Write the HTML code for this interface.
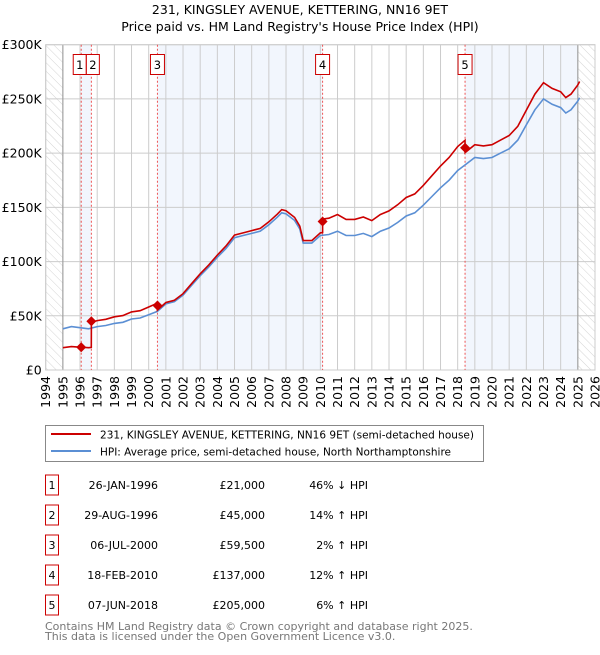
<!DOCTYPE html>
<html><head><meta charset="utf-8"><style>
body{margin:0;background:#fff;font-family:"Liberation Sans","DejaVu Sans",sans-serif;}
svg text{font-family:"DejaVu Sans","Liberation Sans",sans-serif;}
</style></head><body>
<svg id="chart" width="600" height="650" xmlns="http://www.w3.org/2000/svg">
<defs><pattern id="hatch" width="6" height="6" patternUnits="userSpaceOnUse" patternTransform="rotate(-45)"><line x1="0" y1="0" x2="0" y2="6" stroke="#d4d4d4" stroke-width="1"/></pattern></defs>
<text x="300" y="14" font-size="12.5" text-anchor="middle">231, KINGSLEY AVENUE, KETTERING, NN16 9ET</text>
<text x="300" y="31" font-size="12.5" text-anchor="middle">Price paid vs. HM Land Registry's House Price Index (HPI)</text>
<g id="plot"></g>
<g>
<rect x="45.5" y="425.5" width="438" height="36" fill="#fff" stroke="#888"/>
<line x1="51" y1="434" x2="91" y2="434" stroke="#cc0000" stroke-width="2"/>
<text x="100" y="438.5" font-size="11" textLength="374" lengthAdjust="spacingAndGlyphs">231, KINGSLEY AVENUE, KETTERING, NN16 9ET (semi-detached house)</text>
<line x1="51" y1="451" x2="91" y2="451" stroke="#5b8fd4" stroke-width="2"/>
<text x="100" y="455.5" font-size="11" textLength="351" lengthAdjust="spacingAndGlyphs">HPI: Average price, semi-detached house, North Northamptonshire</text>
</g>
<g id="table"></g>
<text x="45" y="630" font-size="11" fill="#777">Contains HM Land Registry data © Crown copyright and database right 2025.</text>
<text x="45" y="640" font-size="11" fill="#777">This data is licensed under the Open Government Licence v3.0.</text>
</svg>
<script>
const hpiYears=[1995,1995.5,1996,1996.5,1997,1997.5,1998,1998.5,1999,1999.5,2000,2000.5,2001,2001.5,2002,2002.5,2003,2003.5,2004,2004.5,2005,2005.5,2006,2006.5,2007,2007.5,2007.75,2008,2008.5,2008.8,2009,2009.5,2010,2010.5,2011,2011.5,2012,2012.5,2013,2013.5,2014,2014.5,2015,2015.5,2016,2016.5,2017,2017.5,2018,2018.5,2019,2019.5,2020,2020.5,2021,2021.5,2022,2022.5,2023,2023.5,2024,2024.3,2024.6,2025,2025.1];
const hpiValues=[38,40,39,38,40,41,43,44,47,48,51,54,61,63,69,78,87,95,104,112,122,124,126,128,134,141,145,144,138,130,117,117,124,125,128,124,124,126,123,128,131,136,142,145,152,160,168,175,184,190,196,195,196,200,204,212,226,240,250,245,242,237,240,248,251];
const saleDates=[1996.07,1996.66,2000.51,2010.13,2018.43];
const salePrices=[21000,45000,59500,137000,205000];
const saleHpiPct=[-46,14,2,12,6];
const saleLabels=["1","2","3","4","5"];
const saleDateText=["26-JAN-1996","29-AUG-1996","06-JUL-2000","18-FEB-2010","07-JUN-2018"];
const salePriceText=["£21,000","£45,000","£59,500","£137,000","£205,000"];
const saleHpiText=["46% ↓ HPI","14% ↑ HPI","2% ↑ HPI","12% ↑ HPI","6% ↑ HPI"];
const yTicks=[0,50,100,150,200,250,300];
const yTickLabels=["£0","£50K","£100K","£150K","£200K","£250K","£300K"];
const xTicks=[1994,1995,1996,1997,1998,1999,2000,2001,2002,2003,2004,2005,2006,2007,2008,2009,2010,2011,2012,2013,2014,2015,2016,2017,2018,2019,2020,2021,2022,2023,2024,2025,2026];

const NS="http://www.w3.org/2000/svg";
const X0=45.7,X1=595,Y0=370,Y1=44.7;
const xs=y=>X0+(y-1994)/32*(X1-X0);
const ys=v=>Y0-v/300*(Y0-Y1);
function mk(tag,attrs,parent){const e=document.createElementNS(NS,tag);for(const k in attrs)e.setAttribute(k,attrs[k]);parent.appendChild(e);return e;}
function hpiAt(t){for(let i=0;i<hpiYears.length-1;i++){if(t<=hpiYears[i+1]){const f=(t-hpiYears[i])/(hpiYears[i+1]-hpiYears[i]);return hpiValues[i]+f*(hpiValues[i+1]-hpiValues[i]);}}return hpiValues[hpiValues.length-1];}
const plot=document.getElementById('plot');
const bounds=[1995].concat(saleDates,[2025]);
for(let i=0;i<bounds.length-1;i++){if(i%2===1){const r=mk('rect',{x:xs(bounds[i]),y:Y1,width:xs(bounds[i+1])-xs(bounds[i]),height:Y0-Y1,fill:'#eef3fc',opacity:0.75},plot);

}}
const h1=mk('rect',{x:X0,y:Y1,width:xs(1995)-X0,height:Y0-Y1,fill:'url(#hatch)'},plot);


const h2=mk('rect',{x:xs(2025),y:Y1,width:X1-xs(2025),height:Y0-Y1,fill:'url(#hatch)'},plot);


yTicks.forEach((v,i)=>{mk('line',{x1:X0,x2:X1,y1:ys(v),y2:ys(v),stroke:'#ccc'},plot);
const t=mk('text',{x:X0-4,y:ys(v)+4.5,'font-size':12.5,'text-anchor':'end'},plot);t.textContent=yTickLabels[i];

});
xTicks.forEach(y=>{mk('line',{x1:xs(y),x2:xs(y),y1:Y1,y2:Y0,stroke:'#ccc'},plot);
const t=mk('text',{x:0,y:0,'font-size':12.5,'text-anchor':'end',transform:`translate(${xs(y)+4.5},${Y0+6}) rotate(-90)`},plot);t.textContent=y;

});
mk('line',{x1:xs(1995),x2:xs(1995),y1:Y1,y2:Y0,stroke:'#999'},plot);
mk('line',{x1:xs(2025),x2:xs(2025),y1:Y1,y2:Y0,stroke:'#999'},plot);
mk('rect',{x:X0,y:Y1,width:X1-X0,height:Y0-Y1,fill:'none',stroke:'#ccc'},plot);
saleDates.forEach((d,i)=>{const l=mk('line',{x1:xs(d),x2:xs(d),y1:Y1,y2:Y0,stroke:'#e55','stroke-dasharray':'2,2','stroke-width':1},plot);


const bx=i===0?xs(d)-8:(i===1?xs(d)-5:xs(d)-7);
const r=mk('rect',{x:bx,y:54.5,width:i<2?13:14,height:20,fill:'#fff',stroke:'#cc0000'},plot);


const t=mk('text',{x:bx+(i<2?6.5:7),y:69,'font-size':11.5,'text-anchor':'middle'},plot);t.textContent=saleLabels[i];});
let p='';hpiYears.forEach((y,i)=>{p+=(i?'L':'M')+xs(y).toFixed(1)+','+ys(hpiValues[i]).toFixed(1);});
const hl=mk('path',{d:p,fill:'none',stroke:'#5b8fd4','stroke-width':1.6},plot);


const factors=saleHpiPct.map(v=>1+v/100);
let pr='';
const pts=hpiYears.slice();
saleDates.forEach(d=>{pts.push(d-0.001);pts.push(d);});
pts.sort((a,b)=>a-b);
pts.forEach((y,i)=>{let k=0;for(let j=0;j<saleDates.length;j++)if(y>=saleDates[j])k=j;const v=hpiAt(y)*factors[k];pr+=(i?'L':'M')+xs(y).toFixed(1)+','+ys(v).toFixed(1);});
const rl=mk('path',{d:pr,fill:'none',stroke:'#cc0000','stroke-width':1.6},plot);


saleDates.forEach((d,i)=>{const c=mk('path',{d:`M${xs(d)},${ys(salePrices[i]/1000)-5}l5,5l-5,5l-5,-5z`,fill:'#cc0000'},plot);

});
const tb=document.getElementById('table');
saleDates.forEach((d,i)=>{const cy=485+i*30;
const r=mk('rect',{x:45.5,y:cy-10,width:13,height:20,fill:'#fff',stroke:'#cc0000'},tb);


const a=mk('text',{x:52,y:cy+4,'font-size':11,'text-anchor':'middle'},tb);a.textContent=saleLabels[i];
const b=mk('text',{x:158,y:cy+4,'font-size':11,'text-anchor':'end'},tb);b.textContent=saleDateText[i];


const c=mk('text',{x:265,y:cy+4,'font-size':11,'text-anchor':'end'},tb);c.textContent=salePriceText[i];


const e=mk('text',{x:368,y:cy+4,'font-size':11,'text-anchor':'end'},tb);e.textContent=saleHpiText[i];

});
</script>
</body></html>
